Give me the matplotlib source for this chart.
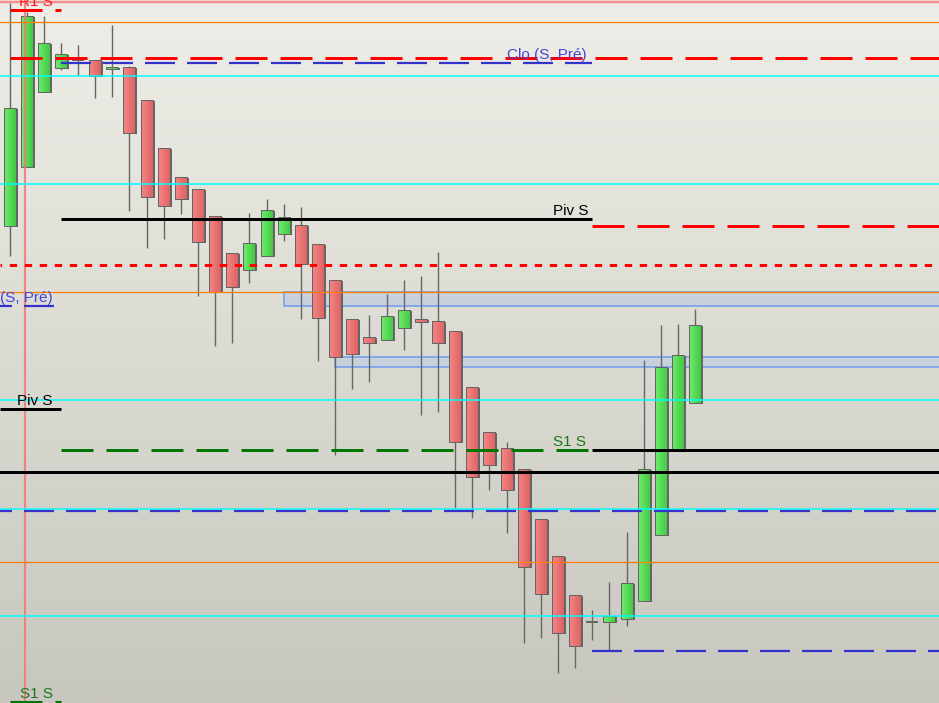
import numpy as np
import matplotlib.pyplot as plt
from matplotlib.colors import LinearSegmentedColormap
from matplotlib.patches import Rectangle

plt.rcParams['font.family'] = ['Liberation Sans', 'DejaVu Sans']
plt.rcParams['lines.scale_dashes'] = False

#==============================================================================
# data (price units)
#==============================================================================
opens  = [477, 536, 611, 635, 643, 643, 634, 636, 603, 555, 526, 514, 487, 450,
          433, 447, 469, 478, 459, 423, 384, 366, 363, 375, 384, 382, 372, 316,
          271, 255, 234, 184, 147, 108, 81, 81, 84, 102, 168, 253, 300]
highs  = [700, 691, 687, 660, 658, 643, 678, 637, 603, 555, 526, 514, 487, 450,
          490, 504, 499, 496, 459, 423, 384, 388, 409, 423, 427, 451, 372, 316,
          271, 261, 234, 184, 147, 108, 93, 121, 171, 343, 378, 379, 394]
lows   = [447, 536, 611, 633, 627, 605, 606, 492, 455, 464, 489, 407, 357, 360,
          420, 447, 462, 384, 342, 248, 314, 321, 363, 353, 288, 291, 195, 185,
          213, 170, 60, 65, 30, 35, 63, 52, 77, 102, 168, 253, 300]
closes = [595, 687, 660, 649, 643, 627, 636, 570, 506, 497, 504, 461, 411, 416,
          460, 493, 486, 439, 385, 346, 349, 360, 387, 393, 381, 360, 261, 226,
          238, 213, 136, 109, 70, 57, 81, 87, 120, 234, 336, 348, 378]

# levels
r1_prev, clo_prev, piv_prev, s1_prev = 693, 397, 294, 1
clo_cur, piv_cur, s1_cur = 640, 484, 253
r1_line, piv_next, s1_next, clo_next = 645, 477, 253, 52
dotted_red = 438
black_full = 231
blue_full = 192.5
orange_lvls = [681, 411, 141]
cyan_lvls = [627, 519, 303, 194, 87]
salmon_top = 701.3
zones = [(16, 397, 411), (19, 336, 346)]   # start bar, low, high

#==============================================================================
# figure
#==============================================================================
W, H = 939, 703
STEP, X0 = 17.14, 9.5       # px per bar, px of first bar
PX = 1.0 / STEP
xmin, xmax = -X0 / STEP, (W - X0) / STEP
pt = 0.72                   # 1 px in points at 100 dpi

fig = plt.figure(figsize=(W / 100, H / 100), dpi=100)
ax = fig.add_axes([0, 0, 1, 1])
ax.axis('off')

bg = LinearSegmentedColormap.from_list('bg', ['#c8c7bf', '#dcdbd3', '#eeede7'])
ax.imshow(np.linspace(0, 1, 256).reshape(-1, 1), extent=[xmin, xmax, 0, H],
          origin='lower', cmap=bg, aspect='auto', zorder=0)

for x0, lo, hi in zones:
    ax.add_patch(Rectangle((x0, lo), 100, hi - lo, fc='#c8d0dc', ec='#6b9bf0',
                           lw=1.5 * pt, zorder=1))

def hseg(y, x0, x1, color, lw, dash=None, phase=0, z=5):
    ln, = ax.plot([x0, x1], [y, y], color=color, lw=lw * pt, zorder=z,
                  solid_capstyle='butt', dash_capstyle='butt')
    if dash:
        ln.set_linestyle((phase * pt, (dash[0] * pt, dash[1] * pt)))

def label(text, x, y, color, dx=-6):
    ax.annotate(text, (x, y), xytext=(dx * pt, 3), textcoords='offset points',
                ha='right', va='baseline', color=color, fontsize=11, zorder=6)

# candles
red_cm = LinearSegmentedColormap.from_list('r', ['#f68686', '#dc6262'])
grn_cm = LinearSegmentedColormap.from_list('g', ['#70ec70', '#42c842'])
grad = np.linspace(0, 1, 32).reshape(1, -1)
bw = 12 * PX
for i, (o, h, l, c) in enumerate(zip(opens, highs, lows, closes)):
    ax.vlines(i, l, h, color='#666666', lw=1.0, zorder=3)
    lo, hi = min(o, c), max(o, c)
    if hi - lo < 1.5:
        ax.plot([i - bw / 2, i + bw / 2], [lo, lo], color='#666666',
                lw=2 * pt, zorder=4, solid_capstyle='butt')
        continue
    ax.add_patch(Rectangle((i - bw / 2 + 2 * PX, lo - 1), bw, hi - lo,
                           fc='#666666', ec='none', zorder=3.5))
    ax.imshow(grad, extent=[i - bw / 2, i + bw / 2, lo, hi],
              cmap=grn_cm if c > o else red_cm, aspect='auto', zorder=4)
    ax.add_patch(Rectangle((i - bw / 2, lo), bw, hi - lo, fill=False,
                           ec='#646464', lw=1.0 * pt, zorder=4.1))

# separator
ax.axvline((25 - X0) / STEP, color='#f07878', alpha=0.85, lw=2.2 * pt, zorder=4.5)
ax.axhline(salmon_top, color='#f49090', lw=2.5 * pt, zorder=5)

# full width lines
for y in orange_lvls:
    ax.axhline(y, color='#ff8000', lw=1.3 * pt, zorder=5)
for y in cyan_lvls:
    ax.axhline(y, color='#00ffff', lw=1.5 * pt, zorder=5)
ax.axhline(black_full, color='black', lw=3 * pt, zorder=5)
hseg(blue_full, xmin, xmax, '#3333cc', 2.2, (30, 12), phase=18)
hseg(dotted_red, xmin, xmax, '#ff0000', 3, (7.3, 7.7), phase=5.7)
hseg(r1_line, 0, xmax, '#ff0000', 3, (32, 13))

# previous session
hseg(r1_prev, 0, 3, '#ff0000', 3, (32, 13))
hseg(clo_prev, xmin, 3, '#3333cc', 2.2, (30, 12), phase=18)
hseg(piv_prev, xmin, 3, 'black', 3)
hseg(s1_prev, 0, 3, '#007700', 3, (32, 13))
label('R1 S', 3, r1_prev, '#ff1a1a', -8)
label('Clo (S, Pré)', 3, clo_prev, '#4444dd', -8)
label('Piv S', 3, piv_prev, 'black', -8)
label('S1 S', 3, s1_prev, '#1a7a1a', -8)

# current session
hseg(clo_cur, 3, 34, '#3333cc', 2.2, (30, 12))
hseg(piv_cur, 3, 34, 'black', 3)
hseg(s1_cur, 3, 34, '#007700', 3, (32, 13))
label('Clo (S, Pré)', 34, clo_cur, '#4444dd')
label('Piv S', 34, piv_cur, 'black', -4)
label('S1 S', 34, s1_cur, '#1a7a1a')

# next session
hseg(piv_next, 34, xmax, '#ff0000', 3, (32, 13))
hseg(s1_next, 34, xmax, 'black', 3)
hseg(clo_next, 34, xmax, '#3333cc', 2.2, (30, 12))

ax.set_xlim(xmin, xmax)
ax.set_ylim(0, H)

plt.savefig('out.png', dpi=100)
